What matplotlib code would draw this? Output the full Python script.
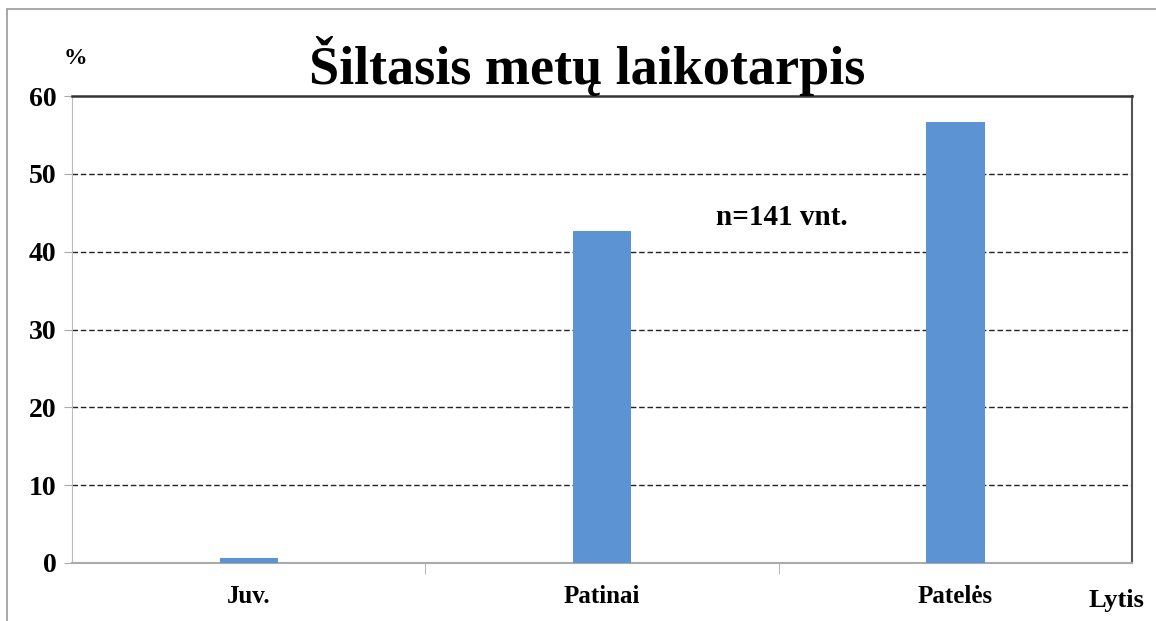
import matplotlib
matplotlib.use("Agg")
import matplotlib.pyplot as plt
from matplotlib.patches import Rectangle

categories = ["Juv.", "Patinai", "Patelės"]
values = [0.7, 42.6, 56.7]
yticks = [0, 10, 20, 30, 40, 50, 60]

plt.rcParams['font.family'] = ['Liberation Serif', 'DejaVu Serif']

fig = plt.figure(figsize=(11.56, 6.21), dpi=100)
ax = fig.add_axes([0.0623, 0.0934, 0.9170, 0.7520])

x = list(range(len(categories)))
ax.bar(x, values, width=0.165, color='#5b93d3', zorder=3)
ax.set_xlim(-0.5, len(categories) - 0.5)
ax.set_ylim(0, 60)
ax.set_yticks(yticks)
ax.set_yticklabels([str(t) for t in yticks], fontsize=20, fontweight='bold')
ax.set_xticks(x)
ax.set_xticklabels(categories, fontsize=18, fontweight='bold')
ax.tick_params(axis='x', length=0, pad=16)
ax.tick_params(axis='y', length=6, color='#aaaaaa', pad=5)
# category boundary ticks
ax.set_xticks([0.5, 1.5], minor=True)
ax.tick_params(axis='x', which='minor', length=8, color='#aaaaaa')

for t in yticks[1:-1]:
    ax.axhline(t, color='#222222', linestyle=(0, (4, 2)), linewidth=1.0, zorder=1)

ax.spines['top'].set_color('#333333')
ax.spines['top'].set_linewidth(1.8)
ax.spines['right'].set_color('#555555')
ax.spines['right'].set_linewidth(1.5)
ax.spines['left'].set_color('#bbbbbb')
ax.spines['bottom'].set_color('#aaaaaa')
ax.spines['bottom'].set_linewidth(1.5)

fig.text(0.508, 0.893, "Šiltasis metų laikotarpis", ha='center', va='center',
         fontsize=39, fontweight='bold')
fig.text(0.065, 0.905, "%", ha='center', va='center', fontsize=17, fontweight='bold')
fig.text(0.676, 0.65, "n=141 vnt.", ha='center', va='center', fontsize=21, fontweight='bold')
fig.text(0.966, 0.033, "Lytis", ha='center', va='center', fontsize=19, fontweight='bold')

fig.patches.append(Rectangle((0.006, -0.05), 1.2, 1.035, transform=fig.transFigure,
                             fill=False, edgecolor='#999999', linewidth=1.2))

fig.savefig("out.png", dpi=100)
